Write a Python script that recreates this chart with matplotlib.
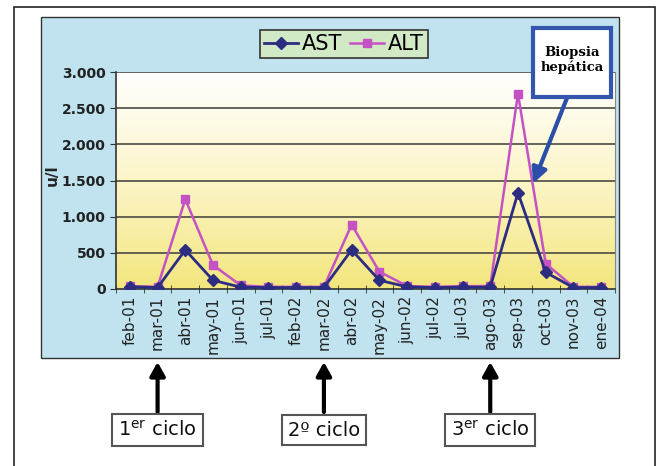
import matplotlib.pyplot as plt
import numpy as np
from matplotlib.patches import Rectangle, FancyArrowPatch
from matplotlib.colors import LinearSegmentedColormap

#------------------------------------------------------------------------------#

months = ["feb-01", "mar-01", "abr-01", "may-01", "jun-01", "jul-01",
          "feb-02", "mar-02", "abr-02", "may-02", "jun-02", "jul-02",
          "jul-03", "ago-03", "sep-03", "oct-03", "nov-03", "ene-04"]
ast = [30, 20, 540, 120, 25, 20, 20, 20, 540, 120, 30, 20, 25, 25, 1330, 230, 20, 20]
alt = [40, 30, 1240, 330, 50, 30, 30, 30, 890, 240, 40, 30, 40, 40, 2700, 350, 30, 30]
y_ticks = [0, 500, 1000, 1500, 2000, 2500, 3000]
y_tick_labels = ["0", "500", "1.000", "1.500", "2.000", "2.500", "3.000"]

# cycle starts: label, index of month
cycles = [("1$^{\\mathrm{er}}$ ciclo", 1), ("2º ciclo", 7), ("3$^{\\mathrm{er}}$ ciclo", 13)]
biopsy_idx = 14

#------------------------------------------------------------------------------#

W, H = 657, 466

def fx(x):
    return x / W

def fy(y):
    return 1 - y / H

plt.rc('font', family='DejaVu Sans')

fig = plt.figure(figsize=(W / 100, H / 100), dpi=100)
fig.patch.set_facecolor('white')

# outer frame and blue chart area
fig.patches.append(Rectangle((fx(14), fy(470)), fx(655 - 14), (470 - 7) / H,
                             transform=fig.transFigure, fill=False,
                             edgecolor='#222222', lw=1.2, zorder=0))
fig.patches.append(Rectangle((fx(41), fy(358)), fx(619 - 41), (358 - 17) / H,
                             transform=fig.transFigure, facecolor='#c0e3ef',
                             edgecolor='#333333', lw=1.0, zorder=0))

ax = fig.add_axes([fx(116), fy(289), fx(615 - 116), (289 - 72) / H])
ax.set_zorder(1)
ax.patch.set_alpha(0)

x = np.arange(len(months))

# gradient background white -> yellow
cmap = LinearSegmentedColormap.from_list('wy', ['#f3e67e', '#fcf5c8', '#ffffff'])
grad = np.linspace(0, 1, 256).reshape(-1, 1)
ax.imshow(grad, extent=[-0.5, len(months) - 0.5, 0, 3000], origin='lower',
          aspect='auto', cmap=cmap, zorder=0)

for yv in y_ticks[1:]:
    ax.axhline(yv, color='#4a4a44', lw=1.2, zorder=1)

ax.plot(x, ast, color='#2c2c80', lw=2, marker='D', markersize=6, label='AST', zorder=3)
ax.plot(x, alt, color='#c452c4', lw=1.8, marker='s', markersize=6, label='ALT', zorder=2)

ax.set_xlim(-0.5, len(months) - 0.5)
ax.set_ylim(0, 3000)
ax.set_yticks(y_ticks)
ax.set_yticklabels(y_tick_labels, fontsize=10, fontweight='bold', color='#222222')
ax.set_xticks(x)
ax.set_xticklabels(months, rotation=90, fontsize=11, color='#222222')
ax.tick_params(axis='x', length=0, pad=5)
ax.set_xticks(np.arange(-0.5, len(months)), minor=True)
ax.tick_params(axis='x', which='minor', length=6, direction='inout', color='#333333')
ax.tick_params(axis='y', length=4, color='#333333')

ax.spines['top'].set_visible(False)
ax.spines['right'].set_color('#888888')
ax.spines['left'].set_color('#333333')
ax.spines['bottom'].set_color('#333333')
ax.spines['left'].set_linewidth(1.2)
ax.spines['bottom'].set_linewidth(1.2)

fig.text(fx(52), fy(175), "u/l", rotation=90, ha='center', va='center',
         fontsize=11, fontweight='bold', color='#222222')

leg = fig.legend(loc='center', bbox_to_anchor=(fx(344), fy(44)), ncol=2,
                 fontsize=15, handlelength=1.6, handletextpad=0.2,
                 columnspacing=0.4, borderpad=0.2, fancybox=False,
                 facecolor='#d2e9c6', edgecolor='#333333', framealpha=1)
leg.get_frame().set_linewidth(1.2)

# biopsy callout
fig.patches.append(Rectangle((fx(533), fy(97)), fx(611 - 533), (97 - 28) / H,
                             transform=fig.transFigure, facecolor='white',
                             edgecolor='#3457ad', lw=3, zorder=5))
fig.text(fx(572), fy(60), "Biopsia\nhepática", ha='center', va='center',
         fontsize=9.5, fontweight='bold', family='DejaVu Serif', linespacing=1.15,
         zorder=6)
ax.annotate("", xy=(biopsy_idx + 0.55, 1460), xycoords='data',
            xytext=(fx(567), fy(98)), textcoords='figure fraction',
            arrowprops=dict(arrowstyle='-|>,head_length=0.9,head_width=0.45',
                            color='#2b4ea8', lw=3, shrinkA=0, shrinkB=0),
            zorder=6, annotation_clip=False)

# cycle arrows and boxes
for label, idx in cycles:
    xp = ax.transData.transform((idx, 0))[0]
    xf = xp / fig.dpi / fig.get_figwidth()
    fig.add_artist(FancyArrowPatch((xf, fy(412)), (xf, fy(362)),
                                   transform=fig.transFigure,
                                   arrowstyle='-|>,head_length=0.9,head_width=0.5',
                                   mutation_scale=9, color='black', lw=3,
                                   shrinkA=0, shrinkB=0))
    fig.text(xf, fy(430), label, ha='center', va='center', fontsize=14,
             color='#111111',
             bbox=dict(boxstyle='square,pad=0.3', facecolor='white',
                       edgecolor='#555555', lw=1.5))

fig.savefig('out.png', dpi=100)
